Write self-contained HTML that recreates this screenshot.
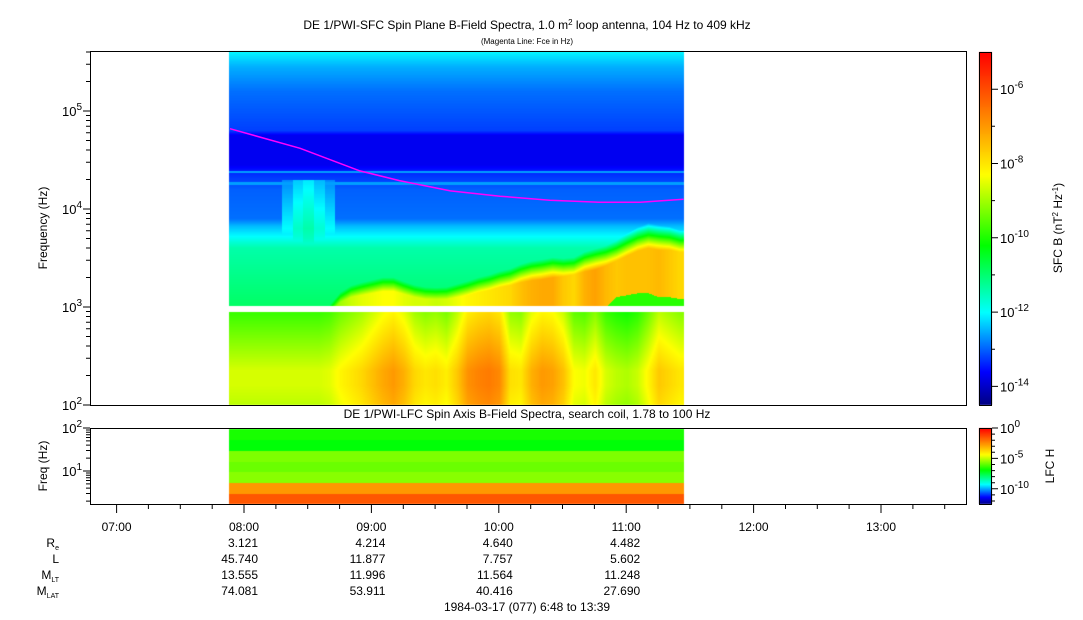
<!DOCTYPE html>
<html><head><meta charset="utf-8"><style>
body{margin:0;background:#fff;}
#wrap{position:relative;width:1083px;height:620px;overflow:hidden;font-family:"Liberation Sans",sans-serif;}
canvas,svg{position:absolute;left:0;top:0;}
</style></head><body>
<div id="wrap">
<canvas id="cv" width="1083" height="620"></canvas>
<svg id="sv" width="1083" height="620" xmlns="http://www.w3.org/2000/svg" font-family="Liberation Sans, sans-serif" fill="#000">
<text x="527" y="29" font-size="12" text-anchor="middle">DE 1/PWI-SFC  Spin Plane B-Field Spectra, 1.0 m<tspan font-size="8" dy="-4">2</tspan><tspan dy="4"> loop antenna, 104 Hz to 409 kHz</tspan></text>
<text x="527" y="44" font-size="8" text-anchor="middle">(Magenta Line: Fce in Hz)</text>
<text x="527" y="418" font-size="12" text-anchor="middle">DE 1/PWI-LFC  Spin Axis B-Field Spectra, search coil, 1.78 to 100 Hz</text>
<text transform="translate(47,228) rotate(-90)" font-size="12" text-anchor="middle">Frequency (Hz)</text>
<text transform="translate(47,466) rotate(-90)" font-size="12" text-anchor="middle">Freq (Hz)</text>
<text transform="translate(1062,228) rotate(-90)" font-size="12" text-anchor="middle">SFC B (nT<tspan font-size="8" dy="-4">2</tspan><tspan dy="4"> Hz</tspan><tspan font-size="8" dy="-4">-1</tspan><tspan dy="4">)</tspan></text>
<text transform="translate(1054,466) rotate(-90)" font-size="12" text-anchor="middle">LFC H</text>
<g id="ax"></g>
<text x="527" y="611" font-size="12" text-anchor="middle">1984-03-17 (077) 6:48 to 13:39</text>
</svg>
</div>
<script>
// ---- data ----
const colStartHour = 7.882, colMinutes = 5;
const lowPeak = [-8.6,-8.6,-8.6,-8.6,-8.6,-8.6,-8.6,-8.6,-8.6,-8.5,-8.2,-8.0,-7.8,-7.5,-7.2,-7.0,-7.3,-7.8,-8.0,-7.9,-8.1,-7.6,-6.9,-6.7,-6.6,-6.8,-7.9,-8.0,-7.3,-7.0,-7.1,-7.5,-8.3,-8.4,-8.0,-8.6,-8.8,-8.9,-8.7,-8.2,-7.6,-7.8,-8.0];
const emisEdge = [2.9,2.9,2.9,2.9,2.9,2.9,2.9,2.9,2.9,2.95,3.05,3.1,3.12,3.14,3.16,3.16,3.13,3.1,3.08,3.08,3.08,3.1,3.12,3.15,3.17,3.2,3.22,3.25,3.27,3.28,3.3,3.31,3.33,3.36,3.38,3.42,3.47,3.52,3.57,3.6,3.58,3.58,3.56];
const emisLevel = [-20,-20,-20,-20,-20,-20,-20,-20,-20,-9.5,-9.0,-8.7,-8.5,-8.4,-8.3,-8.3,-8.5,-8.6,-8.6,-8.7,-8.6,-8.4,-8.2,-8.1,-8.0,-7.9,-7.8,-7.5,-7.3,-7.2,-7.2,-7.6,-7.8,-7.3,-7.1,-7.4,-7.6,-7.5,-7.5,-7.5,-7.4,-7.6,-7.8];
const emisFloor = [3,3,3,3,3,3,3,3,3,3,3,3,3,3,3,3,3,3,3,3,3,3,3,3,3,3,3,3,3,3,3,3,3,3,3,3,3.1,3.12,3.14,3.14,3.1,3.1,3.08];
const streak = [0,0,0,0,0,-12.0,-11.6,-11.4,-11.7,-12.0,0,0,0,0,0,0,0,0,0,0,0,0,0,0,0,0,0,0,0,0,0,0,0,0,0,0,0,0,0,0,0,0,0];
const bgLogF = [3.0,3.6,3.72,3.82,3.9,4.2,4.35,4.45,4.75,4.8,5.2,5.45,5.62];
const bgLevel = [-10.9,-11.4,-12.0,-12.4,-12.9,-13.0,-13.3,-13.7,-13.7,-13.2,-12.9,-12.5,-12.0];
const lineLogF = [4.26,4.38];
const lfcBand = [-6.6,-6.9,-5.6,-5.8,-5.5,-2.6,-1.5];
const fceHour = [7.89,8.44,8.91,9.22,9.62,10.01,10.40,10.79,11.11,11.45];
const fceKHz = [66,41.6,24.5,19.5,15.3,13.5,12.3,11.7,11.7,12.6];
const hourTicks = ["07:00","08:00","09:00","10:00","11:00","12:00","13:00"];
const rowLabels = ["Re","L","MLT","MLAT"];
const rowValues = [["3.121","4.214","4.640","4.482"],["45.740","11.877","7.757","5.602"],["13.555","11.996","11.564","11.248"],["74.081","53.911","40.416","27.690"]];

// ---- scales ----
const xOf = h => 244 + (h-8)*127.4;
const yTop = L => 405 - (L-2)*98;
const LTop = y => 2 + (405-y)/98;
const yBot = L => 428 + (2-L)*43;
const stops = [[0,[0,0,128]],[0.095,[0,0,255]],[0.263,[0,255,255]],[0.453,[0,255,0]],[0.653,[255,255,0]],[0.79,[255,153,0]],[1,[255,0,0]]];
function cmap(n){n=Math.max(0,Math.min(1,n));for(let i=1;i<stops.length;i++){if(n<=stops[i][0]){const a=stops[i-1],b=stops[i],t=(n-a[0])/(b[0]-a[0]);return a[1].map((c,k)=>Math.round(c+(b[1][k]-c)*t));}}return stops[stops.length-1][1];}
const sfcN = v => (v+14.5)/9.5;
const lfcN = v => (v+12.5)/12.5;
function interp(xs,ys,x){if(x<=xs[0])return ys[0];for(let i=1;i<xs.length;i++)if(x<=xs[i]){const t=(x-xs[i-1])/(xs[i]-xs[i-1]);return ys[i-1]+(ys[i]-ys[i-1])*t;}return ys[ys.length-1];}
function colVal(arr,c){const i=Math.max(0,Math.min(arr.length-1,c));const i0=Math.floor(i),i1=Math.min(arr.length-1,i0+1),t=i-i0;return arr[i0]*(1-t)+arr[i1]*t;}

// ---- draw spectrogram ----
const cv=document.getElementById('cv'),ctx=cv.getContext('2d');
const img=ctx.createImageData(1083,620);
const x0=Math.round(xOf(colStartHour)), x1=Math.round(xOf(colStartHour+lowPeak.length*colMinutes/60));
for(let x=x0;x<Math.min(x1,684);x++){
  const c=((x+0.5)-x0)/(127.4*colMinutes/60)-0.5;
  const lp=colVal(lowPeak,c),ee=colVal(emisEdge,c),el=colVal(emisLevel,c),ef=colVal(emisFloor,c);
  const st=streak[Math.max(0,Math.min(streak.length-1,Math.round(c)))];
  for(let y=51;y<405;y++){
    if(y>=306&&y<312)continue;
    const L=LTop(y+0.5);let v;
    if(L<3){v=lp-2.0*Math.max(0,L-2.35)-1.0*Math.max(0,2.2-L);}
    else{
      v=interp(bgLogF,bgLevel,L);
      for(const ll of lineLogF) if(Math.abs(L-ll)<0.012) v=Math.max(v,-12.6);
      if(st<-5&&L>3.4&&L<4.3) v=Math.max(v,st-Math.abs(L-3.8)*1.5);
      if(L<ef) v=Math.max(v,-9.9);
      else { const em = L<=ee? el : el-20*(L-ee); v=Math.max(v,em); }
    }
    const col=cmap(sfcN(v));const p=(y*1083+x)*4;img.data[p]=col[0];img.data[p+1]=col[1];img.data[p+2]=col[2];img.data[p+3]=255;
  }
  for(let y=429;y<504;y++){
    const b=Math.min(lfcBand.length-1,Math.floor((y-429)/75*lfcBand.length));
    const v=lfcBand[b];const col=cmap(lfcN(v));const p=(y*1083+x)*4;img.data[p]=col[0];img.data[p+1]=col[1];img.data[p+2]=col[2];img.data[p+3]=255;
  }
}
for(let y=52;y<405;y++){const v=-5-(y-52)/353*9.5;const col=cmap(sfcN(v));for(let x=979;x<992;x++){const p=(y*1083+x)*4;img.data[p]=col[0];img.data[p+1]=col[1];img.data[p+2]=col[2];img.data[p+3]=255;}}
for(let y=428;y<504;y++){const v=0-(y-428)/76*12.5;const col=cmap(lfcN(v));for(let x=979;x<992;x++){const p=(y*1083+x)*4;img.data[p]=col[0];img.data[p+1]=col[1];img.data[p+2]=col[2];img.data[p+3]=255;}}
for(let i=0;i<img.data.length;i+=4){if(img.data[i+3]===0){img.data[i]=img.data[i+1]=img.data[i+2]=img.data[i+3]=255;}}
ctx.putImageData(img,0,0);

// ---- axes (svg) ----
const NS='http://www.w3.org/2000/svg',ax=document.getElementById('ax');
function el(tag,attrs,txt){const e=document.createElementNS(NS,tag);for(const k in attrs)e.setAttribute(k,attrs[k]);if(txt!==undefined)e.textContent=txt;ax.appendChild(e);return e;}
let e;
e=el('rect',{x:90.5,y:51.5,width:876,height:354,fill:'none',stroke:'#000'});


e=el('rect',{x:90.5,y:428.5,width:876,height:76,fill:'none',stroke:'#000'});


e=el('rect',{x:979.5,y:52.5,width:12,height:353,fill:'none',stroke:'#000'});


e=el('rect',{x:979.5,y:428.5,width:12,height:76,fill:'none',stroke:'#000'});


let d='';for(let i=0;i<fceHour.length;i++){d+=(i?'L':'M')+xOf(fceHour[i]).toFixed(1)+','+yTop(Math.log10(fceKHz[i]*1000)).toFixed(1);}
e=el('path',{d:d,fill:'none',stroke:'#ff00ff','stroke-width':1.5});


let tk='';
for(let dec=2;dec<6;dec++)for(let m=1;m<10;m++){const L=dec+Math.log10(m);if(L>5.62)break;const y=yTop(L);if(y<51)continue;tk+=`M90,${y.toFixed(1)}h${m===1?-7:-4}`;}
for(let L=0;L<=2;L++)for(let m=1;m<10;m++){const LL=L+Math.log10(m);if(LL>2||LL<0.25)continue;const y=yBot(LL);tk+=`M90,${y.toFixed(1)}h${m===1?-7:-4}`;}
for(let q=27;q<=54;q++){const h=q/4;const x=xOf(h);if(x<91||x>966)continue;const major=q%4===0;tk+=`M${x.toFixed(1)},505v${major?8:4}`;}
for(let p=-6;p>=-14;p--){const y=52+(-5-p)/9.5*353;tk+=`M992,${y.toFixed(1)}h${p%2===0?6:3}`;}
for(let p=0;p>=-12;p--){const y=428+(-p)/12.5*76;tk+=`M992,${y.toFixed(1)}h${p%5===0?6:3}`;}
e=el('path',{d:tk,stroke:'#000','stroke-width':1,fill:'none'});


function powLabel(x,y,base,exp,anchor,name){const t=el('text',{x:x,y:y,'font-size':13,'text-anchor':anchor});const a=document.createElementNS(NS,'tspan');a.textContent=base;t.appendChild(a);const b=document.createElementNS(NS,'tspan');b.setAttribute('dy','-6');b.setAttribute('font-size','10');b.textContent=exp;t.appendChild(b);

return t;}
for(let L=2;L<=5;L++){powLabel(82,yTop(L)+5,'10',String(L),'end','y-tick-label');}
powLabel(82,yBot(2)+5,'10','2','end','bottom-y-tick-label');
powLabel(82,yBot(1)+5,'10','1','end','bottom-y-tick-label');
for(let p=-6;p>=-14;p-=2){powLabel(1000,52+(-5-p)/9.5*353+5,'10',String(p),'start','colorbar-tick-label');}
for(let p=0;p>=-10;p-=5){powLabel(1000,428+(-p)/12.5*76+5,'10',String(p),'start','bottom-colorbar-tick-label');}
hourTicks.forEach((s,i)=>{e=el('text',{x:xOf(7+i),y:531,'font-size':12,'text-anchor':'middle'},s);

});
const rowY=[547,563,579,595];
const subs=[['R','e'],['L',''],['M','LT'],['M','LAT']];
rowLabels.forEach((r,i)=>{const t=el('text',{x:59,y:rowY[i],'font-size':12,'text-anchor':'end'});const a=document.createElementNS(NS,'tspan');a.textContent=subs[i][0];t.appendChild(a);if(subs[i][1]){const b=document.createElementNS(NS,'tspan');b.setAttribute('font-size','7');b.setAttribute('dy','3');b.textContent=subs[i][1];t.appendChild(b);}


rowValues[i].forEach((v,j)=>{e=el('text',{x:xOf(8+j)+14,y:rowY[i],'font-size':12,'text-anchor':'end'},v);

});});
</script>
</body></html>
